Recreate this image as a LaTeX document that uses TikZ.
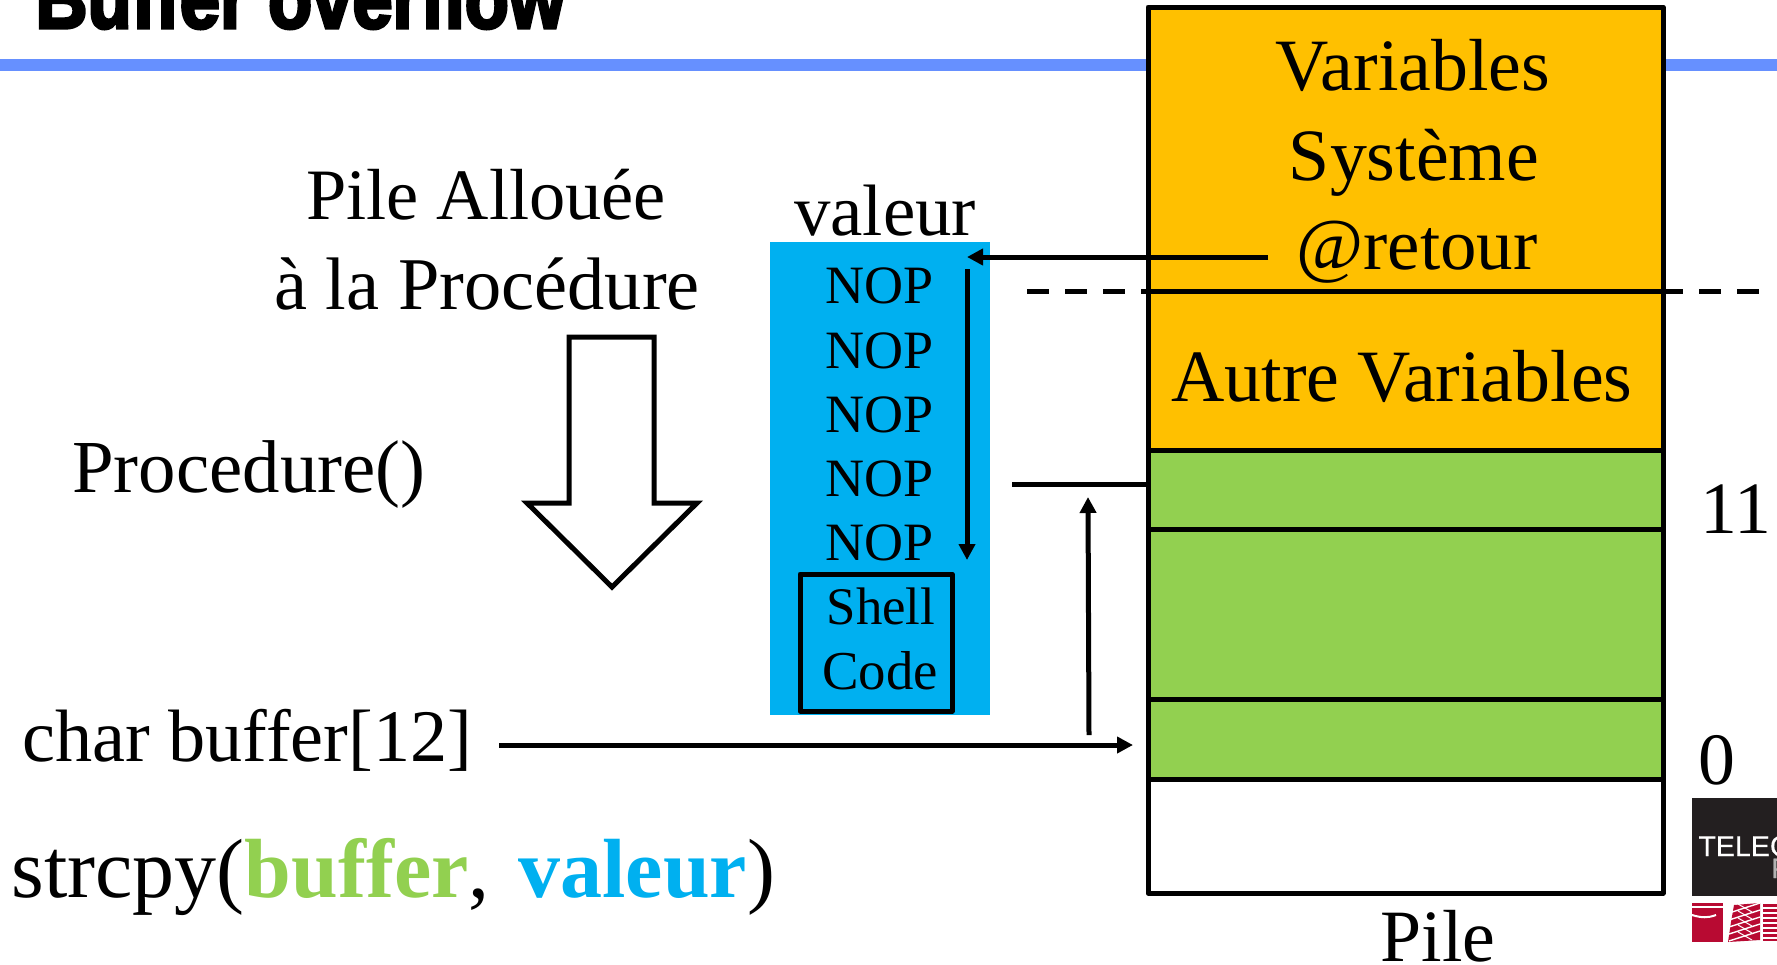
\documentclass[tikz,border=0pt]{standalone}
\usepackage{fontspec}
\setmainfont{Liberation Serif}
\newfontfamily\logofont[FakeBold=0.4]{Liberation Sans}
\newfontfamily\titlefont[FakeBold=4]{Liberation Sans Bold}
\usetikzlibrary{arrows.meta}
\definecolor{barblue}{HTML}{6690FF}
\definecolor{stackorange}{HTML}{FFC000}
\definecolor{stackgreen}{HTML}{92D050}
\definecolor{valblue}{HTML}{00B0F0}
\definecolor{logored}{HTML}{B80A32}
\definecolor{logodark}{HTML}{231F20}
\tikzset{
  x=0.5pt,y=-0.5pt,
  big/.style={inner sep=0pt,anchor=base,font=\fontsize{36.9}{45}\selectfont},
  bigl/.style={big,anchor=base west},
  small/.style={inner sep=0pt,anchor=base,font=\fontsize{27}{31}\selectfont},
  cell/.style={draw=black,line width=2.5pt,line join=round},
  wire/.style={line width=2.5pt},
  tipped/.style={line width=2.5pt,-{Triangle[length=8pt,width=8pt]}},
  gap/.style={line width=2.5pt,dash pattern=on 11pt off 8pt},
}
\begin{document}
\begin{tikzpicture}
\useasboundingbox (0,0) rectangle (1777,964);
\clip (0,0) rectangle (1777,964);
% header
\fill[barblue] (0,59) rectangle (1777,71);
\node[inner sep=0pt,anchor=base west,font=\fontsize{42}{50}\titlefont] (title) at (35,28) {\scalebox{0.86}[1]{Buffer overflow}};
% stack
\fill[stackorange] (1148,7) rectangle (1663,450);
\fill[stackgreen] (1148,450) rectangle (1663,779);
\fill[white] (1148,779) rectangle (1663,893);
\draw[cell] (1148,450) -- (1663,450);
\draw[cell] (1148,529) -- (1663,529);
\draw[cell] (1148,699) -- (1663,699);
\draw[cell] (1148,779) -- (1663,779);
\draw[cell] (1148,7) rectangle (1663,893);
\node[big] (v1) at (1413,90) {Variables};
\node[big] (v2) at (1414,180) {Système};
\node[big,font=\fontsize{36.4}{45}\selectfont] (v3) at (1417,269) {@retour};
\node[big] (v4) at (1402,401) {Autre Variables};
\node[big] (pile) at (1438,961) {Pile};
\node[bigl] (n11) at (1700,533) {11};
\node[bigl] (n0) at (1698,784) {0};
% dashed level
\coordinate (da) at (1027,291);
\coordinate (db) at (1148,291);
\coordinate (dc) at (1683,291);
\coordinate (dd) at (1699,291);
\coordinate (de) at (1759,291);
\draw[gap] (da) -- (db);
\draw[wire] (db) -- (dc);
\draw[gap] (dd) -- (de);
% value
\fill[valblue] (770,242) rectangle (990,715);
\node[big,font=\fontsize{36.4}{45}\selectfont] (val) at (885,235) {valeur};
\node[small] (n1) at (880,303) {NOP};
\node[small] (n2) at (880,368) {NOP};
\node[small] (n3) at (880,432) {NOP};
\node[small] (n4) at (880,496) {NOP};
\node[small] (n5) at (880,560) {NOP};
\node[small,font=\fontsize{26.4}{31}\selectfont] (s1) at (881,624) {Shell};
\node[small,font=\fontsize{27.4}{31}\selectfont] (s2) at (880,689) {Code};
\draw[line width=2.5pt,line join=round] (800,574) rectangle (952,711);
% connectors
\coordinate (retA) at (1268,257);
\coordinate (retB) at (967,257);
\draw[tipped] (retA) -- (retB);
\coordinate (nopA) at (967,269);
\coordinate (nopB) at (967,560);
\draw[tipped] (nopA) -- (nopB);
\coordinate (lvA) at (1012,484);
\coordinate (lvB) at (1148,484);
\draw[wire] (lvA) -- (lvB);
\coordinate (upA) at (1089,735);
\coordinate (upB) at (1088,497);
\draw[tipped] (upA) -- (upB);
\coordinate (chA) at (499,745);
\coordinate (chB) at (1133,745);
\draw[tipped] (chA) -- (chB);
% big arrow
\draw[line width=2.5pt,miter limit=10] (569,337) -- (654,337) -- (654,503) -- (697,503) -- (612,587) -- (527,503) -- (569,503) -- cycle;
% left texts
\node[big,font=\fontsize{36.2}{45}\selectfont] (pa) at (486,219) {Pile Allouée};
\node[big,font=\fontsize{37.2}{45}\selectfont] (pb) at (487,309) {à la Procédure};
\node[bigl,font=\fontsize{37.4}{45}\selectfont] (proc) at (72,492) {Procedure()};
\node[bigl,font=\fontsize{37.1}{45}\selectfont] (chr) at (22,761) {char buffer[12]};
\node[inner sep=0pt,anchor=base west,font=\fontsize{42}{50}\selectfont] (cpy) at (11,897) {strcpy(\textcolor{stackgreen}{\textbf{buffer}}, \hspace{4pt}\textcolor{valblue}{\textbf{valeur}})};
% logo
\fill[logodark] (1692,798) rectangle (1777,896);
\node[inner sep=0pt,anchor=base west,text=white,font=\fontsize{14.3}{16}\logofont] (tel) at (1698,856) {TELECOM};
\node[inner sep=0pt,anchor=base west,text=white!70!black,font=\fontsize{14}{16}\logofont] (par) at (1771,878) {P};
% logo seal
\fill[logored] (1692,903) rectangle (1723,942);
\draw[white,line width=0.6pt] (1692,907) -- (1723,907);
\draw[white,line width=1pt] (1692,915) .. controls (1702,918) and (1708,918) .. (1716,915);
% logo glyphs
\fill[logored] (1734,905) -- (1760,903) -- (1760,940) -- (1728,942) -- (1731,922) -- cycle;
\foreach \yy in {908,915,922,929,936}{
  \draw[white,line width=0.7pt] (1729,\yy+5) -- (1760,\yy-5);
  \draw[white,line width=0.5pt] (1738,\yy-4) -- (1752,\yy+4);
}
\fill[logored] (1763,904) rectangle (1777,941);
\foreach \yy in {908,913,918,923,928,933,938}{
  \draw[white,line width=0.6pt] (1763,\yy) -- (1777,\yy);
}
\end{tikzpicture}
\end{document}
